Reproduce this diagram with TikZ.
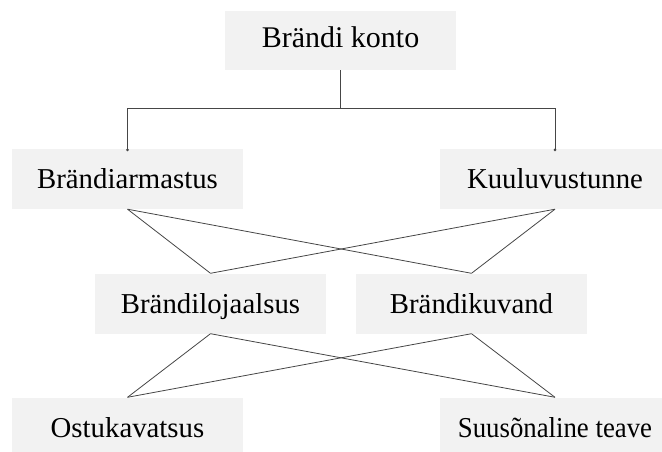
\documentclass[tikz,border=0pt]{standalone}
\usepackage{fontspec}
\setmainfont{Liberation Serif}
\definecolor{boxfill}{RGB}{242,242,242}
\definecolor{linecol}{RGB}{70,70,70}
\tikzset{
  box/.style={fill=boxfill, draw=none, minimum width=231pt, minimum height=60pt,
    inner sep=0pt, font=\fontsize{28.8}{34}\selectfont, text height=23pt, text depth=4pt},
  conn/.style={draw=linecol, line width=0.8pt},
  dot/.style={circle, fill=linecol, inner sep=0pt, minimum size=3pt}
}
\begin{document}
\begin{tikzpicture}[x=1pt, y=-1pt]
\useasboundingbox (0,0) rectangle (662,452);
\node[box, minimum height=59pt, text depth=8pt, font=\fontsize{30}{36}\selectfont] (top) at (340.5,40.5) {Brändi konto};
\node[box] (ba) at (127.5,179) {Brändiarmastus};
\node[box] (ku) at (555,179) {Kuuluvustunne};
\node[box] (bl) at (210.5,303.5) {Brändilojaalsus};
\node[box] (bk) at (471.5,303.5) {Brändikuvand};
\node[box] (os) at (127.5,427.5) {Ostukavatsus};
\node[box] (su) at (555,427.5) {\scalebox{0.93}[1]{Suusõnaline teave}};
\coordinate (jn) at (top.south |- 0,108);
\draw[conn] (top.south) -- (jn);
\draw[conn] (jn) -| ([yshift=-1pt]ba.north);
\draw[conn] (jn) -| ([yshift=-1pt]ku.north);
\node[dot] at ([yshift=-1pt]ba.north) {};
\node[dot] at ([yshift=-1pt]ku.north) {};
\draw[conn] (ba.south) -- (bl.north);
\draw[conn] (ba.south) -- (bk.north);
\draw[conn] (ku.south) -- (bl.north);
\draw[conn] (ku.south) -- (bk.north);
\draw[conn] (bl.south) -- (os.north);
\draw[conn] (bl.south) -- (su.north);
\draw[conn] (bk.south) -- (os.north);
\draw[conn] (bk.south) -- (su.north);
\end{tikzpicture}
\end{document}
